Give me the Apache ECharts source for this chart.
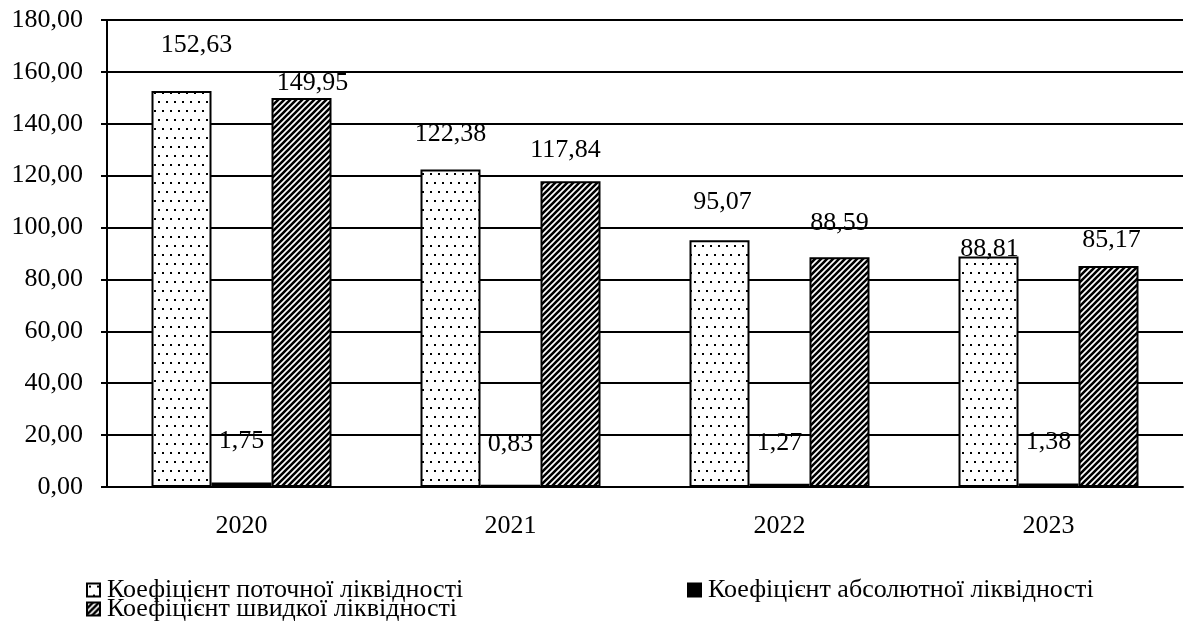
<!DOCTYPE html>
<html>
<head>
<meta charset="utf-8">
<script src="https://cdn.jsdelivr.net/npm/echarts@6/dist/echarts.min.js"></script>
<style>
  html, body { margin: 0; padding: 0; background: #fff; }
  #chart { width: 1185px; height: 627px; }
</style>
</head>
<body>
<div id="chart"></div>
<script>
// Liquidity ratios by year
const years = ['2020', '2021', '2022', '2023'];
const seriesNames = [
  'Коефіцієнт поточної ліквідності',
  'Коефіцієнт абсолютної ліквідності',
  'Коефіцієнт швидкої ліквідності'
];
const currentRatio = [152.63, 122.38, 95.07, 88.81];
const absoluteRatio = [1.75, 0.83, 1.27, 1.38];
const quickRatio = [149.95, 117.84, 88.59, 85.17];
const yTicks = [0, 20, 40, 60, 80, 100, 120, 140, 160, 180];

// Hand-placed value label nudges [dx, dy] per bar
const currentLabelShift = [[15, -33], [0, -22], [3, -25], [1, 6]];
const absoluteLabelShift = [[0, -28], [0, -28], [0, -28], [0, -28]];
const quickLabelShift = [[11, -2], [-5, -18], [0, -21], [3, -13]];

const FONT = 'Liberation Serif, Times New Roman, serif';
const FS = 26;

function dotPattern() {
  const c = document.createElement('canvas');
  c.width = 8; c.height = 18;
  const g = c.getContext('2d');
  g.fillStyle = '#fff'; g.fillRect(0, 0, 8, 18);
  g.fillStyle = '#000';
  g.fillRect(2, 2, 2, 2);
  g.fillRect(6, 11, 2, 2);
  return c;
}

function hatchPattern() {
  const s = 6;
  const c = document.createElement('canvas');
  c.width = s; c.height = s;
  const g = c.getContext('2d');
  g.fillStyle = '#fff'; g.fillRect(0, 0, s, s);
  g.strokeStyle = '#000';
  g.lineWidth = 2.6;
  g.beginPath();
  for (let k = -1; k <= 1; k++) {
    g.moveTo(k * s - 1, s + 1);
    g.lineTo(k * s + s + 1, -1);
  }
  g.stroke();
  return c;
}

const fmt = v => v.toFixed(2).replace('.', ',');

function withLabels(values, shifts) {
  return values.map((v, i) => ({ value: v, label: { offset: shifts[i] } }));
}

const labelBase = {
  show: true,
  position: 'top',
  distance: 0,
  color: '#000',
  fontFamily: FONT,
  fontSize: FS,
  formatter: p => fmt(p.value)
};

const legendBase = {
  orient: 'horizontal',
  padding: 0,
  itemWidth: 13,
  itemHeight: 13,
  itemGap: 0,
  selectedMode: false,
  icon: 'rect',
  textStyle: { fontFamily: FONT, fontSize: FS, color: '#000', padding: [0, 0, 0, 2] }
};

const chart = echarts.init(document.getElementById('chart'), null, { renderer: 'canvas' });

chart.setOption({
  animation: false,
  backgroundColor: '#fff',
  textStyle: { fontFamily: FONT },
  grid: { left: 107, right: 2, top: 20, bottom: 140, containLabel: false },
  legend: [
    Object.assign({}, legendBase, { data: [seriesNames[0]], left: 86, top: 577 }),
    Object.assign({}, legendBase, { data: [seriesNames[1]], left: 687, top: 577 }),
    Object.assign({}, legendBase, { data: [seriesNames[2]], left: 86, top: 596 })
  ],
  xAxis: {
    type: 'category',
    data: years,
    axisLine: { lineStyle: { color: '#000', width: 2 } },
    axisTick: { show: false },
    axisLabel: { color: '#000', fontFamily: FONT, fontSize: FS, margin: 26 }
  },
  yAxis: {
    type: 'value',
    min: yTicks[0],
    max: yTicks[yTicks.length - 1],
    interval: yTicks[1] - yTicks[0],
    axisLine: { show: true, lineStyle: { color: '#000', width: 2 } },
    axisTick: { show: true, inside: false, length: 6, lineStyle: { color: '#000', width: 2 } },
    splitLine: { show: true, lineStyle: { color: '#000', width: 2 } },
    axisLabel: { color: '#000', fontFamily: FONT, fontSize: FS, margin: 24, formatter: v => fmt(v) }
  },
  series: [
    {
      name: seriesNames[0],
      type: 'bar',
      barWidth: 60,
      barGap: '0%',
      data: withLabels(currentRatio, currentLabelShift),
      itemStyle: { color: { image: dotPattern(), repeat: 'repeat' }, borderColor: '#000', borderWidth: 2 },
      label: labelBase
    },
    {
      name: seriesNames[1],
      type: 'bar',
      barWidth: 60,
      barGap: '0%',
      data: withLabels(absoluteRatio, absoluteLabelShift),
      itemStyle: { color: '#000', borderColor: '#000', borderWidth: 2 },
      label: labelBase
    },
    {
      name: seriesNames[2],
      type: 'bar',
      barWidth: 60,
      barGap: '0%',
      data: withLabels(quickRatio, quickLabelShift),
      itemStyle: { color: { image: hatchPattern(), repeat: 'repeat' }, borderColor: '#000', borderWidth: 2 },
      label: labelBase
    }
  ]
});
</script>
</body>
</html>
